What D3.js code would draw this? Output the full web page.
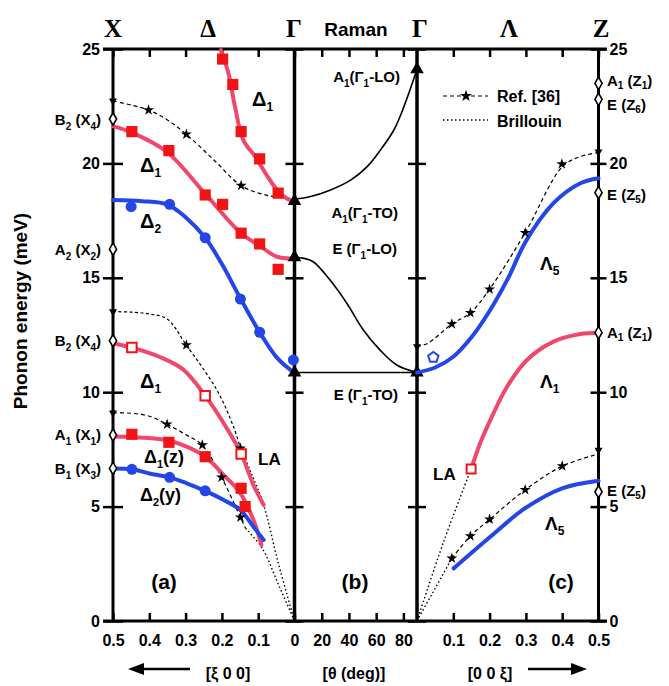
<!DOCTYPE html>
<html>
<head>
<meta charset="utf-8">
<title>Phonon dispersion</title>
<script src="https://d3js.org/d3.v7.min.js"></script>
<style>
body { margin: 0; background: #fff; }
svg text { font-family: 'Liberation Sans', Arial, sans-serif; font-weight: bold; fill: #000; }
svg text.serif { font-family: 'Liberation Serif', 'Times New Roman', serif; }
</style>
</head>
<body>
<div id="chart"></div>
<script>
// ---- data: [xi or theta, meV] ----
// panel (a)  [xi 0 0]
var d1SteepPts = [[0.198,24.56],[0.170,23.45],[0.147,21.39],[0.096,20.2],[0.045,18.7]];
var d1SteepFit = [[0.203,24.95],[0.182,23.94],[0.164,22.48],[0.141,21.02],[0.108,20.29],[0.08,19.57],[0.048,18.84],[0.02,18.45],[0,18.35]];
var d1MidPts = [[0.448,21.39],[0.346,20.56],[0.246,18.62],[0.198,18.21],[0.147,16.95],[0.096,16.48],[0.045,15.37]];
var d1MidFit = [[0.5,21.63],[0.444,21.32],[0.352,20.51],[0.247,18.69],[0.149,16.97],[0.099,16.43],[0.048,15.92],[0,15.85]];
var d2HighPts = [[0.45,18.11],[0.344,18.21],[0.246,16.75],[0.149,14.07],[0.096,12.62],[0.003,11.41]];
var d2HighFit = [[0.5,18.4],[0.42,18.35],[0.35,18.2],[0.3,17.65],[0.246,16.75],[0.2,15.6],[0.149,14.1],[0.096,12.62],[0.048,11.5],[0,10.84]];
var d1LAPts = [[0.448,11.95],[0.246,9.85],[0.147,7.3]];
var d1LAFit = [[0.5,12.14],[0.448,11.95],[0.397,11.7],[0.351,11.4],[0.305,10.97],[0.246,9.85],[0.195,8.64],[0.147,7.3],[0.113,5.94],[0.085,5.07]];
var d1zPts = [[0.448,8.16],[0.346,7.81],[0.246,7.18],[0.147,5.8],[0.136,5.0]];
var d1zFit = [[0.5,8.06],[0.45,8.04],[0.4,8.0],[0.35,7.9],[0.297,7.62],[0.246,7.18],[0.195,6.38],[0.149,5.58],[0.113,4.41],[0.091,3.32]];
var d2yPts = [[0.448,6.63],[0.344,6.28],[0.246,5.69]];
var d2yFit = [[0.5,6.67],[0.448,6.63],[0.4,6.45],[0.344,6.28],[0.297,6.02],[0.246,5.69],[0.195,5.29],[0.149,4.85],[0.113,4.12],[0.085,3.54]];
var refA1 = [[0.5,22.73],[0.45,22.55],[0.402,22.33],[0.35,21.9],[0.298,21.27],[0.222,20.15],[0.147,19.03],[0.075,18.6],[0,18.45]];
var refA1Stars = [[0.402,22.33],[0.298,21.27],[0.147,19.03]];
var refA2 = [[0.5,13.52],[0.45,13.5],[0.4,13.42],[0.351,13.2],[0.298,12.06],[0.214,10.1],[0.168,8.49],[0.149,7.55]];
var refA2Stars = [[0.298,12.06],[0.149,7.55]];
var refA3 = [[0.5,9.1],[0.45,9.08],[0.4,8.95],[0.351,8.6],[0.3,8.15],[0.254,7.69],[0.201,6.28],[0.149,4.53],[0.135,4.05]];
var refA3Stars = [[0.351,8.6],[0.254,7.69],[0.201,6.28],[0.149,4.53]];
var refXEnds = [22.73, 13.52, 9.1];
var brilA1 = [[0.149,7.55],[0.12,6.5],[0.085,5.07],[0.045,2.55],[0,0]];
var brilA2 = [[0.135,4.05],[0.089,3.18],[0.045,1.62],[0,0]];
var xDiamonds = [21.94, 16.25, 12.25, 8.13, 6.67];
var xDiamondNames = ['B_2 (X_4)', 'A_2 (X_2)', 'B_2 (X_4)', 'A_1 (X_1)', 'B_1 (X_3)'];

// panel (b)  Raman, theta in degrees
var ramanA1 = [[0,18.43],[11.8,18.55],[26.5,18.84],[41.2,19.27],[53.4,19.86],[63.2,20.59],[73,21.46],[80.4,22.48],[90,24.11]];
var ramanE = [[0,15.9],[7,15.85],[13.8,15.7],[26.1,14.9],[38.4,13.89],[50.6,12.72],[62.9,11.84],[75.1,11.19],[90,10.86]];
var ramanETO = [[0,10.86],[90,10.86]];
var gammaLeft = [18.35, 15.9, 10.86];
var gammaRight = [24.11, 10.86];

// panel (c)  [0 0 xi]
var l5HighFit = [[0,10.86],[0.05,11.08],[0.1,11.55],[0.15,12.4],[0.2,13.55],[0.25,14.95],[0.3,16.6],[0.376,18.26],[0.45,19.13],[0.5,19.35]];
var l5HighPts = [[0.045,11.52]];
var l1Fit = [[0.149,6.64],[0.174,7.77],[0.202,8.78],[0.248,10.24],[0.303,11.41],[0.376,12.21],[0.45,12.54],[0.5,12.6]];
var l1LAPts = [[0.149,6.64]];
var l5LowFit = [[0.101,2.3],[0.202,3.68],[0.298,4.93],[0.4,5.8],[0.5,6.13]];
var refC1 = [[0,11.99],[0.03,12.14],[0.096,12.98],[0.147,13.47],[0.2,14.5],[0.298,16.97],[0.4,19.85],[0.45,20.3],[0.5,20.47]];
var refC1Stars = [[0.096,12.98],[0.147,13.47],[0.2,14.5],[0.298,16.97],[0.399,19.97]];
var refC2 = [[0.096,2.74],[0.147,3.71],[0.2,4.44],[0.298,5.73],[0.4,6.77],[0.5,7.3]];
var refC2Stars = [[0.096,2.74],[0.147,3.71],[0.2,4.44],[0.298,5.73],[0.4,6.77]];
var refZEnds = [20.51, 7.47];
var refGammaEnds = [11.99];
var brilC1 = [[0,0],[0.073,3.45],[0.149,6.64]];
var brilC2 = [[0,0],[0.096,2.74]];
var zDiamonds = [23.5, 22.8, 18.72, 12.6, 5.65];
var zDiamondNames = ['A_1 (Z_1)', 'E (Z_6)', 'E (Z_5)', 'A_1 (Z_1)', 'E (Z_5)'];
var zLabelShift = [3, 11, 7, 5, 4];

// ticks
var energyTicks = [0, 5, 10, 15, 20, 25];
var xiTicksA = [0.5, 0.4, 0.3, 0.2, 0.1, 0];
var thetaTicks = [20, 40, 60, 80];
var xiTicksC = [0.1, 0.2, 0.3, 0.4, 0.5];

// ---- layout ----
var width = 669, height = 686;
var RED = '#f0476c', REDMARK = '#f01414', BLUE = '#2446e6';

var svg = d3.select('#chart').append('svg')
    .attr('width', width).attr('height', height)
    .style('background-color', '#fff');

var ya = d3.scaleLinear().domain([0, 25]).range([621, 49]);
var xa = d3.scaleLinear().domain([0.5, 0]).range([113, 294.5]);
var xb = d3.scaleLinear().domain([0, 90]).range([294.5, 417]);
var xc = d3.scaleLinear().domain([0, 0.5]).range([417, 598.5]);

// text with _x subscripts
function rich(t, str, subSize, subDy) {
    var parts = str.split(/_(.)/);
    var cur = 0;
    parts.forEach(function(p, i) {
        if (!p) return;
        var target = (i % 2 == 1) ? subDy : 0;
        var ts = t.append('tspan').text(p);
        if (target != cur) ts.attr('dy', target - cur);
        if (i % 2 == 1) ts.attr('font-size', subSize);
        cur = target;
    });
    return t;
}
function label(x, y, str, size, anchor, subSize, subDy) {
    var t = svg.append('text').attr('x', x).attr('y', y)
        .attr('font-size', size).attr('text-anchor', anchor || 'start');
    return rich(t, str, subSize || Math.round(size * 0.65), subDy || 5);
}

function line(xs, pts, color, w, dash) {
    svg.append('path').datum(pts)
        .attr('d', d3.line().x(function(d) { return xs(d[0]); }).y(function(d) { return ya(d[1]); })
            .curve(d3.curveCatmullRom.alpha(0.5)))
        .attr('fill', 'none').attr('stroke', color).attr('stroke-width', w)
        .attr('stroke-dasharray', dash || null)
        .attr('stroke-linecap', dash ? 'butt' : 'round');
}

var symbolPentagon = {
    draw: function(ctx, size) {
        var r = Math.sqrt(size / 2.378);
        for (var i = 0; i < 5; i++) {
            var a = -Math.PI / 2 + i * 2 * Math.PI / 5;
            if (i == 0) ctx.moveTo(r * Math.cos(a), r * Math.sin(a));
            else ctx.lineTo(r * Math.cos(a), r * Math.sin(a));
        }
        ctx.closePath();
    }
};

function marks(xs, pts, type, size, fill, stroke, sw, rot) {
    svg.append('g').selectAll('path').data(pts).join('path')
        .attr('d', d3.symbol().type(type).size(size))
        .attr('transform', function(d) { return 'translate(' + xs(d[0]) + ',' + ya(d[1]) + ')' + (rot ? ' rotate(' + rot + ')' : ''); })
        .attr('fill', fill).attr('stroke', stroke || 'none').attr('stroke-width', sw || 0);
}

// ---- axes & frame ----
function ticksOn(x, left, right, labels) {
    var g1 = svg.append('g').attr('transform', 'translate(' + x + ',0)')
        .call(d3.axisLeft(ya).tickValues(energyTicks).tickSize(left).tickPadding(3)
            .tickFormat(labels == 'left' ? d3.format('d') : ''));
    var g2 = svg.append('g').attr('transform', 'translate(' + x + ',0)')
        .call(d3.axisRight(ya).tickValues(energyTicks).tickSize(right).tickPadding(3)
            .tickFormat(labels == 'right' ? d3.format('d') : ''));
    [g1, g2].forEach(function(g) {
        g.select('.domain').remove();
        g.selectAll('line').attr('stroke', '#000').attr('stroke-width', 2.5);
        g.selectAll('text').attr('font-size', 16).attr('font-family', null);
    });
}
ticksOn(113, 10, 10, 'left');
ticksOn(294.5, 9, 9);
ticksOn(417, 9, 9);
ticksOn(598.5, 8, 8, 'right');

function hTicks(xs, vals, fmt) {
    var top = svg.append('g').attr('transform', 'translate(0,49)')
        .call(d3.axisBottom(xs).tickValues(vals).tickSize(8).tickFormat(''));
    var bot = svg.append('g').attr('transform', 'translate(0,621)')
        .call(d3.axisTop(xs).tickValues(vals).tickSize(8).tickFormat(''));
    var lab = svg.append('g').attr('transform', 'translate(0,621)')
        .call(d3.axisBottom(xs).tickValues(vals).tickSize(0).tickPadding(14).tickFormat(fmt));
    [top, bot, lab].forEach(function(g) {
        g.select('.domain').remove();
        g.selectAll('line').attr('stroke', '#000').attr('stroke-width', 2.5);
        g.selectAll('text').attr('font-size', 16).attr('font-family', null);
    });
}
hTicks(xa, xiTicksA, function(d) { return d == 0 ? '0' : d3.format('.1f')(d); });
hTicks(xb, thetaTicks, d3.format('d'));
hTicks(xc, xiTicksC, d3.format('.1f'));

svg.append('g').selectAll('line').data([49, 621]).join('line')
    .attr('x1', 103).attr('x2', 607).attr('y1', function(d) { return d; }).attr('y2', function(d) { return d; })
    .attr('stroke', '#000').attr('stroke-width', 3);
svg.append('g').selectAll('line').data([113, 294.5, 417, 598.5]).join('line')
    .attr('x1', function(d) { return d; }).attr('x2', function(d) { return d; })
    .attr('y1', 49).attr('y2', 621)
    .attr('stroke', '#000').attr('stroke-width', function(d, i) { return (i == 1 || i == 2) ? 3.5 : 3; });

// ---- panel (a) ----
line(xa, brilA1, '#000', 1.4, '1.5,2.5');
line(xa, brilA2, '#000', 1.4, '1.5,2.5');
line(xa, refA1, '#000', 1.2, '4,3');
line(xa, refA2, '#000', 1.2, '3,2.5');
line(xa, refA3, '#000', 1.2, '4,3');
line(xa, d1SteepFit, RED, 4);
line(xa, d1MidFit, RED, 4);
line(xa, d1LAFit, RED, 4);
line(xa, d1zFit, RED, 4);
line(xa, d2HighFit, BLUE, 4);
line(xa, d2yFit, BLUE, 4);

marks(xa, refA1Stars.concat(refA2Stars, refA3Stars), d3.symbolStar, 38, '#000');
marks(xa, refXEnds.map(function(v) { return [0.5, v]; }), d3.symbolTriangle, 28, '#000', null, 0, 180);
marks(xa, d1SteepPts.concat(d1MidPts, d1zPts), d3.symbolSquare, 125, REDMARK);
marks(xa, d1LAPts, d3.symbolSquare, 90, '#fff', REDMARK, 2);
marks(xa, d2HighPts.concat(d2yPts), d3.symbolCircle, 95, BLUE);
marks(xa, xDiamonds.map(function(v) { return [0.5, v]; }), d3.symbolDiamond, 45, '#fff', '#000', 1.6);

xDiamonds.forEach(function(v, i) { label(101, ya(v) + 5.5, xDiamondNames[i], 15, 'end', 10); });

label(252, 106, 'Δ_1', 20, 'start', 12);
label(140, 172, 'Δ_1', 20, 'start', 12);
label(140, 228, 'Δ_2', 20, 'start', 12);
label(140, 388, 'Δ_1', 20, 'start', 12);
label(144, 463, 'Δ_1(z)', 18, 'start', 11);
label(140, 501, 'Δ_2(y)', 18, 'start', 11);
label(258, 465, 'LA', 17);
label(164, 589, '(a)', 21, 'middle');

// ---- panel (b) ----
line(xb, ramanA1, '#000', 1.6);
line(xb, ramanE, '#000', 1.6);
line(xb, ramanETO, '#000', 1.6);
marks(xb, gammaLeft.map(function(v) { return [0, v]; }), d3.symbolTriangle, 80, '#000');
marks(xb, gammaRight.map(function(v) { return [90, v]; }), d3.symbolTriangle, 80, '#000');

label(400, 82, 'A_1(Γ_1-LO)', 15, 'end', 10);
label(398, 218, 'A_1(Γ_1-TO)', 15, 'end', 10);
label(397, 254, 'E (Γ_1-LO)', 15, 'end', 10);
label(398, 400, 'E (Γ_1-TO)', 15, 'end', 10);
label(355, 589, '(b)', 21, 'middle');

// ---- panel (c) ----
line(xc, brilC1, '#000', 1.4, '1.5,2.5');
line(xc, brilC2, '#000', 1.4, '1.5,2.5');
line(xc, refC1, '#000', 1.2, '4,3');
line(xc, refC2, '#000', 1.2, '4,3');
line(xc, l5HighFit, BLUE, 4);
line(xc, l1Fit, RED, 4);
line(xc, l5LowFit, BLUE, 4);

marks(xc, refC1Stars.concat(refC2Stars), d3.symbolStar, 38, '#000');
marks(xc, refZEnds.map(function(v) { return [0.5, v]; }), d3.symbolTriangle, 28, '#000', null, 0, 180);
marks(xc, refGammaEnds.map(function(v) { return [0, v]; }), d3.symbolTriangle, 28, '#000', null, 0, 180);
marks(xc, l1LAPts, d3.symbolSquare, 80, '#fff', REDMARK, 2);
marks(xc, l5HighPts, symbolPentagon, 70, '#fff', BLUE, 2);
marks(xc, zDiamonds.map(function(v) { return [0.5, v]; }), d3.symbolDiamond, 45, '#fff', '#000', 1.6);

zDiamonds.forEach(function(v, i) { label(607, ya(v) + zLabelShift[i], zDiamondNames[i], 15, 'start', 10, 3); });

label(540, 270, 'Λ_5', 19, 'start', 12);
label(540, 388, 'Λ_1', 19, 'start', 12);
label(545, 530, 'Λ_5', 19, 'start', 12);
label(433, 480, 'LA', 17);
label(561, 589, '(c)', 21, 'middle');

// legend
svg.append('line').attr('x1', 443).attr('x2', 488).attr('y1', 96).attr('y2', 96)
    .attr('stroke', '#000').attr('stroke-width', 1.2).attr('stroke-dasharray', '4,3');
svg.append('path').attr('d', d3.symbol().type(d3.symbolStar).size(45)())
    .attr('transform', 'translate(466,96)');
label(497, 102, 'Ref. [36]', 16);
svg.append('line').attr('x1', 443).attr('x2', 488).attr('y1', 120).attr('y2', 120)
    .attr('stroke', '#000').attr('stroke-width', 1.4).attr('stroke-dasharray', '1.5,2.5');
label(497, 127, 'Brillouin', 16);

// ---- header / footer ----
[['X', 113], ['Δ', 208], ['Γ', 294], ['Γ', 420], ['Λ', 509], ['Z', 601]].forEach(function(h) {
    svg.append('text').attr('class', 'serif').attr('x', h[1]).attr('y', 37)
        .attr('text-anchor', 'middle').attr('font-size', 25).text(h[0]);
});
label(356, 36, 'Raman', 19, 'middle');

svg.append('text').attr('transform', 'translate(27,311) rotate(-90)')
    .attr('text-anchor', 'middle').attr('font-size', 19).text('Phonon energy (meV)');

label(228, 679, '[ξ 0 0]', 16, 'middle');
label(354, 679, '[θ (deg)]', 16, 'middle');
label(490, 679, '[0 0 ξ]', 16, 'middle');

svg.append('line').attr('x1', 190).attr('x2', 140).attr('y1', 669).attr('y2', 669)
    .attr('stroke', '#000').attr('stroke-width', 2.5);
svg.append('path').attr('d', 'M128,669 L144,663 L144,675 Z');
svg.append('line').attr('x1', 528).attr('x2', 574).attr('y1', 669).attr('y2', 669)
    .attr('stroke', '#000').attr('stroke-width', 2.5);
svg.append('path').attr('d', 'M587,669 L571,663 L571,675 Z');
</script>
</body>
</html>
